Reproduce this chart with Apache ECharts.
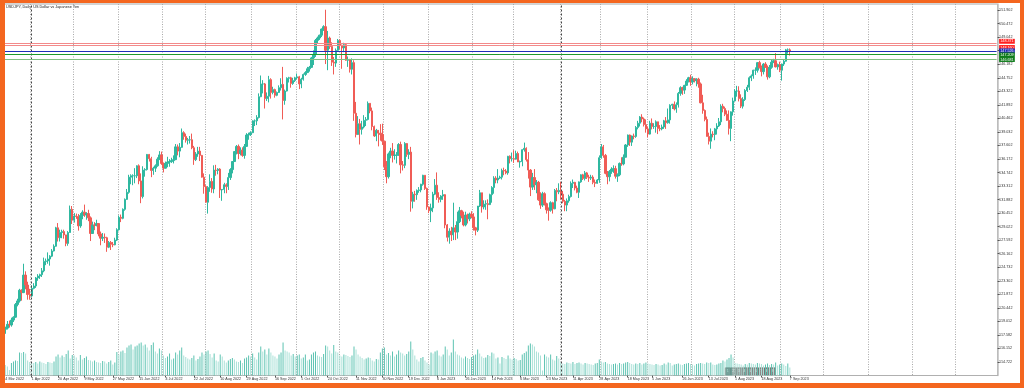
<!DOCTYPE html>
<html><head><meta charset="utf-8">
<script src="https://cdn.jsdelivr.net/npm/echarts@6/dist/echarts.min.js"></script>
<style>
html,body{margin:0;padding:0;background:#fff;}
#wrap{position:relative;width:1024px;height:388px;overflow:hidden;}
#chart{position:absolute;left:0;top:0;width:1024px;height:388px;}
#frame{position:absolute;left:0;top:0;width:1024px;height:388px;box-sizing:border-box;border-style:solid;border-color:#f4661f;border-width:3px 4px 5px 5px;pointer-events:none;}
</style></head>
<body><div id="wrap"><div id="chart"></div><div id="frame"></div></div>
<script>
const chartTitle = 'USDJPY, Daily: US Dollar vs Japanese Yen';
// [open, close, low, high]  Mar–Jun 2022
const ohlc2022a = [
[117.30,118.17,117.10,118.45],[118.17,118.30,117.70,118.45],[118.30,118.70,118.15,119.05],[118.70,118.63,118.35,119.10],[118.63,119.15,118.45,119.40],
[119.15,119.45,118.95,119.55],[119.45,120.80,119.40,120.95],[120.80,121.17,120.60,121.40],[121.17,122.30,121.00,122.45],[122.30,122.05,121.20,122.40],
[122.05,123.90,122.00,125.10],[123.90,122.85,122.40,124.30],[122.85,121.85,121.30,123.20],[121.85,121.70,121.30,122.45],
[121.70,122.50,121.60,122.80],[122.50,122.75,122.40,123.05],[122.75,123.60,122.55,123.70],[123.60,123.80,123.30,124.00],[123.80,123.95,123.50,124.05],
[123.95,124.35,123.70,124.65],[124.35,125.35,124.20,125.75],[125.35,125.40,124.95,125.65],[125.40,125.60,125.10,126.30],[125.60,125.90,124.90,126.00],
[125.90,126.45,125.80,126.65],[126.45,126.95,126.40,127.15],[126.95,128.90,126.90,129.00],[128.90,127.85,127.45,129.40],[127.85,128.40,127.45,128.70],
[128.40,128.50,127.80,128.70],[128.50,128.15,127.75,128.70],[128.15,127.25,126.95,128.10],[127.25,128.40,127.00,128.55],[128.40,130.85,128.40,131.25],
[130.85,129.70,129.30,131.20],
[129.70,130.15,129.45,130.45],[130.15,130.10,129.85,130.40],[130.10,129.10,128.60,130.35],[129.10,130.20,128.90,130.45],[130.20,130.55,129.80,130.75],
[130.55,130.25,130.05,131.35],[130.25,130.40,129.75,130.55],[130.40,129.95,129.60,130.80],[129.95,128.30,127.50,130.10],[128.30,129.20,128.25,129.55],
[129.20,129.15,128.65,129.50],[129.15,129.35,129.05,129.75],[129.35,128.25,128.00,129.35],[128.25,127.80,127.05,128.50],[127.80,127.90,127.50,128.35],
[127.90,127.85,127.30,128.30],[127.85,126.85,126.36,127.95],[126.85,127.35,126.75,127.50],[127.35,127.15,126.55,127.50],[127.15,127.10,126.85,127.40],
[127.10,127.60,127.05,127.85],[127.60,128.70,127.50,128.85],
[128.70,130.00,128.60,130.20],[130.00,129.90,129.50,130.30],[129.90,130.85,129.80,130.95],[130.85,131.90,130.70,132.00],[131.90,132.65,131.85,133.00],
[132.65,134.25,132.50,134.50],[134.25,134.40,133.50,134.55],[134.40,134.40,133.40,134.55],[134.40,134.40,133.60,135.20],[134.40,135.45,134.15,135.50],
[135.45,133.85,133.50,135.60],[133.85,132.20,131.50,134.65],[132.20,135.00,132.00,135.40],[135.00,135.05,134.30,135.20],[135.05,136.65,134.95,136.70],
[136.65,136.20,135.90,136.70],[136.20,134.95,134.25,136.40],[134.95,135.20,134.50,135.35],[135.20,135.45,134.80,135.60],[135.45,136.15,135.35,136.35],
[136.15,136.60,136.05,137.00],[136.60,135.70,135.55,136.95]
];
// Jul–Dec 2022
const ohlc2022b = [
[135.70,135.20,134.75,135.80],[135.20,135.70,135.15,135.90],[135.70,135.85,135.30,136.40],[135.85,135.90,135.35,136.15],[135.90,136.00,135.75,136.30],
[136.00,136.10,135.70,136.55],[136.10,137.45,136.05,137.75],[137.45,137.00,136.55,137.70],[137.00,137.40,136.35,137.85],[137.40,138.95,137.35,139.39],
[138.95,138.55,138.20,139.10],[138.55,138.15,137.90,138.85],[138.15,138.20,137.70,138.40],[138.20,138.20,137.80,138.60],[138.20,137.35,137.20,138.85],
[137.35,136.10,135.55,137.55],[136.10,136.70,135.95,136.90],[136.70,137.00,136.40,137.45],[137.00,136.55,135.95,137.45],[136.55,134.25,134.20,136.60],
[134.25,133.25,132.50,134.65],
[133.25,131.60,131.55,133.40],[131.60,133.15,130.40,133.30],[133.15,133.80,132.70,134.55],[133.80,133.00,132.60,134.15],[133.00,135.00,132.55,135.50],
[135.00,134.95,134.40,135.55],[134.95,135.10,134.55,135.20],[135.10,132.90,132.05,135.20],[132.90,132.95,131.75,133.00],[132.95,133.45,132.55,133.65],
[133.45,133.25,132.55,133.60],[133.25,134.20,132.90,134.70],[134.20,135.05,133.95,135.20],[135.05,135.90,134.65,135.95],[135.90,136.95,135.85,137.00],
[136.95,137.50,136.65,137.65],[137.50,136.75,136.15,137.70],[136.75,137.10,136.55,137.40],[137.10,136.55,136.40,137.40],[136.55,137.50,136.20,137.75],
[137.50,138.70,137.45,138.90],[138.70,138.75,138.20,138.95],[138.75,138.95,138.60,139.10],
[138.95,140.20,138.90,140.25],[140.20,140.20,139.65,140.35],[140.20,140.55,139.75,140.80],[140.55,142.75,140.45,143.10],[142.75,144.10,142.70,144.99],
[144.10,144.10,143.10,144.50],[144.10,142.55,141.50,144.20],[142.55,142.80,142.30,143.20],[142.80,144.55,142.15,144.95],[144.55,143.20,142.55,144.70],
[143.20,143.50,143.00,143.80],[143.50,142.90,142.65,143.60],[142.90,143.20,142.80,143.30],[143.20,143.70,143.15,143.95],[143.70,144.05,143.40,144.70],
[144.05,142.35,140.35,145.90],[142.35,143.35,141.90,143.50],[143.35,144.70,143.30,144.80],[144.70,144.75,144.25,144.85],[144.75,144.15,143.70,144.85],
[144.15,144.45,144.00,144.75],[144.45,144.75,144.30,144.85],
[144.75,144.85,144.60,145.20],[144.85,144.10,143.55,144.95],[144.10,144.60,143.65,144.75],[144.60,145.10,144.45,145.20],[145.10,145.30,144.95,145.45],
[145.30,145.70,145.25,145.90],[145.70,145.85,145.40,146.00],[145.85,146.85,145.80,146.95],[146.85,147.20,146.10,147.65],[147.20,148.70,146.95,148.85],
[148.70,148.95,148.40,149.10],[148.95,149.25,148.75,149.30],[149.25,149.90,149.05,149.95],[149.90,150.15,149.70,150.30],[150.15,147.65,146.20,151.94],
[147.65,148.95,145.55,149.70],[148.95,148.05,147.80,149.10],[148.05,146.40,146.00,148.50],[146.40,146.30,145.10,146.95],[146.30,147.65,145.90,147.85],
[147.65,148.70,147.60,148.85],
[148.70,148.20,147.80,148.80],[148.20,147.90,145.70,148.25],[147.90,148.25,147.45,148.45],[148.25,146.60,146.55,148.40],[146.60,146.65,145.90,147.00],
[146.65,145.65,145.30,146.75],[145.65,146.35,145.10,146.80],[146.35,141.00,140.20,146.60],[141.00,138.75,138.45,142.20],[138.75,139.90,138.80,140.70],
[139.90,139.30,137.70,140.40],[139.30,139.55,138.75,140.20],[139.55,140.25,139.40,140.80],[140.25,140.35,139.65,140.60],[140.35,142.05,140.25,142.25],
[142.05,141.25,141.00,142.05],[141.25,139.60,139.20,141.60],[139.60,138.60,138.50,139.70],[138.60,139.20,138.05,139.35],[139.20,138.90,137.50,139.10],
[138.90,138.75,138.10,139.85],[138.75,138.05,137.65,139.90],
[138.05,135.35,135.00,138.10],[135.35,134.30,133.60,135.95],[134.30,136.70,134.10,136.85],[136.70,137.00,136.25,137.35],[137.00,136.55,135.80,137.85],
[136.55,136.55,136.10,137.20],[136.55,136.60,135.70,136.90],[136.60,137.70,136.50,137.85],[137.70,135.55,134.65,138.00],[135.55,135.50,134.95,135.95],
[135.50,137.80,135.20,137.95],[137.80,136.65,136.40,137.70],[136.65,136.90,136.15,137.20],[136.90,131.70,130.60,137.45],[131.70,132.45,130.95,132.70],
[132.45,132.40,131.65,132.80],[132.40,132.85,131.85,132.95],[132.85,132.90,132.60,133.20],[132.90,133.50,132.65,133.55],[133.50,134.45,133.35,134.50],
[134.45,133.05,132.90,134.45],[133.05,131.10,130.80,133.15]
];
// Jan–Jun 2023
const ohlc2023a = [
[131.10,130.70,130.45,131.15],[130.70,131.00,129.50,131.45],[131.00,132.45,130.55,132.70],[132.45,133.40,132.35,134.05],[133.40,132.10,131.85,134.75],
[132.10,131.90,131.55,132.65],[131.90,132.25,131.60,132.35],[132.25,132.40,131.85,132.90],[132.40,129.20,128.85,132.45],[129.20,127.90,127.45,129.30],
[127.90,128.55,127.22,128.85],[128.55,128.15,127.50,129.00],[128.15,128.90,127.60,131.55],[128.90,128.45,127.60,129.20],[128.45,129.55,127.75,130.60],
[129.55,130.70,129.40,131.10],[130.70,130.20,129.90,130.80],[130.20,129.20,129.05,130.60],[129.20,130.25,129.05,130.60],[130.25,129.85,129.35,130.40],
[129.85,130.35,129.60,130.50],[130.35,130.05,129.90,130.65],
[130.05,128.90,128.60,130.45],[128.90,128.65,128.10,129.00],[128.65,131.20,128.45,131.20],[131.20,132.60,131.10,132.90],[132.60,131.10,130.50,132.60],
[131.10,131.40,130.85,131.80],[131.40,131.45,130.80,131.80],[131.45,131.35,129.80,131.90],[131.35,132.40,131.30,132.50],[132.40,133.15,131.55,133.30],
[133.15,134.15,132.50,134.35],[134.15,133.95,133.60,134.35],[133.95,134.15,133.60,135.10],[134.15,134.25,134.05,134.40],[134.25,134.95,134.00,135.15],
[134.95,134.90,134.45,135.25],[134.90,134.70,134.55,135.10],[134.70,136.45,134.50,136.50],[136.45,136.20,135.70,136.55],[136.20,136.20,135.90,136.85],
[136.20,136.15,135.75,137.10],[136.15,136.75,136.10,137.05],[136.75,135.85,135.85,136.95],[135.85,135.90,135.25,136.00],[135.90,137.15,135.40,137.20],
[137.15,137.30,136.95,137.90],[137.30,136.10,135.90,137.40],[136.10,135.00,134.10,136.90],[135.00,133.20,132.25,135.10],[133.20,134.20,132.90,134.70],
[134.20,133.45,132.90,135.10],[133.45,133.70,132.55,133.95],[133.70,131.85,131.75,133.85],[131.85,131.30,130.90,132.65],[131.30,132.50,131.10,132.70],
[132.50,131.45,131.25,132.65],[131.45,130.80,130.40,131.55],[130.80,130.75,129.65,131.05],[130.75,131.55,130.60,131.70],[131.55,130.90,130.40,131.65],
[130.90,132.85,130.85,133.00],[132.85,132.70,131.70,133.10],[132.70,132.85,132.45,133.60],
[132.85,132.45,131.90,133.75],[132.45,131.70,131.50,132.80],[131.70,131.30,130.65,131.85],[131.30,131.75,130.65,132.00],[131.75,132.20,131.55,132.40],
[132.20,133.60,132.10,133.80],[133.60,133.70,133.10,134.00],[133.70,133.10,132.85,133.75],[133.10,132.65,132.55,133.35],[132.65,133.75,132.05,133.80],
[133.75,134.50,133.65,134.55],[134.50,134.10,133.95,134.60],[134.10,134.70,133.90,134.90],[134.70,134.25,134.05,134.80],[134.25,134.15,133.75,134.50],
[134.15,134.25,133.95,134.50],[134.25,133.70,133.50,134.45],[133.70,133.60,133.20,134.00],[133.60,133.95,133.55,134.05],[133.95,136.30,133.65,136.55],
[136.30,137.45,136.20,137.75],[137.45,136.55,136.30,137.65],[136.55,134.65,134.55,136.70],[134.65,134.30,133.50,134.90],[134.30,134.85,133.80,135.00],
[134.85,135.10,134.60,135.30],[135.10,135.15,134.70,135.50],[135.15,134.35,134.10,135.45],[134.35,134.50,133.75,134.65],[134.50,135.70,134.35,135.80],
[135.70,135.65,135.45,136.35],[135.65,136.35,135.50,136.65],[136.35,137.65,136.35,137.75],[137.65,138.70,137.45,138.75],[138.70,137.95,137.55,138.75],
[137.95,138.60,137.55,138.65],[138.60,138.55,138.25,138.85],[138.55,139.50,138.40,139.65],[139.50,139.95,139.30,140.20],[139.95,140.60,139.60,140.70],
[140.60,140.40,140.05,140.90],[140.40,139.80,139.60,140.55],[139.80,139.35,138.95,140.35],
[139.35,138.80,138.45,139.60],[138.80,139.95,138.75,140.20],[139.95,139.60,139.30,140.45],[139.60,139.60,139.35,139.95],[139.60,140.10,138.95,140.25],
[140.10,139.40,138.80,140.10],[139.40,139.35,139.10,139.75],[139.35,139.55,139.20,139.80],[139.55,140.20,139.35,140.30],[140.20,140.00,139.35,140.60],
[140.00,140.30,139.90,141.50],[140.30,141.85,139.90,141.95],[141.85,141.95,141.45,142.00],[141.95,141.45,141.30,142.25],[141.45,141.90,141.05,142.15],
[141.90,143.10,141.60,143.25],[143.10,143.70,142.85,143.85],[143.70,143.45,142.95,143.80],[143.45,143.95,143.05,144.00],[143.95,144.40,143.90,144.60],
[144.40,144.75,144.25,144.85],[144.75,144.30,143.90,145.07]
];
// Jul–Sep 2023
const ohlc2023b = [
[144.30,144.65,144.05,144.90],[144.65,144.45,144.25,144.70],[144.45,144.60,143.85,144.70],[144.60,144.10,143.70,144.75],[144.10,142.10,142.05,144.25],
[142.10,141.30,140.95,142.95],[141.30,140.35,140.15,141.40],[140.35,138.55,138.55,140.65],[138.55,138.05,137.70,138.95],[138.05,138.80,137.25,139.40],
[138.80,138.75,138.45,139.10],[138.75,139.35,138.15,139.45],[139.35,139.65,138.75,139.95],[139.65,140.10,139.55,140.50],[140.10,141.75,139.75,141.95],
[141.75,141.50,141.10,142.00],[141.50,140.90,140.70,141.70],[140.90,140.25,140.20,141.30],[140.25,139.40,138.75,141.30],[139.40,141.15,138.05,141.20],
[141.15,142.30,140.75,142.65],
[142.30,143.35,142.25,143.55],[143.35,143.35,142.75,143.90],[143.35,142.55,142.25,143.85],[142.55,141.75,141.55,143.00],[141.75,142.45,141.50,142.70],
[142.45,143.40,142.30,143.55],[143.40,143.75,143.25,144.00],[143.75,144.75,143.45,144.90],[144.75,144.95,144.40,145.10],[144.95,145.55,144.65,145.60],
[145.55,145.55,145.05,145.85],[145.55,146.35,145.30,146.40],[146.35,145.80,145.75,146.55],[145.80,145.40,144.90,146.05],[145.40,146.20,145.10,146.30],
[146.20,145.85,145.80,146.40],[145.85,144.85,144.55,146.05],[144.85,145.85,144.70,146.10],[145.85,146.40,145.70,146.65],[146.40,146.55,146.30,146.75],
[146.55,145.90,145.85,147.35],[145.90,146.15,145.60,146.25],[146.15,145.55,145.35,146.45],
[145.55,146.20,144.45,146.25],[146.20,146.50,146.00,146.65],[146.50,147.70,146.45,147.80],[147.70,147.70,147.30,147.85],[147.70,147.55,147.10,147.85]
];
const volumes2022 = [
120,105,90,55,125,140,150,145,230,225,235,220,150,135,
130,125,135,120,140,130,125,115,135,130,125,140,190,210,180,200,185,215,250,170,205,
200,180,150,205,160,175,190,155,150,140,150,135,130,125,145,140,120,135,150,110,130,235,
210,240,250,225,280,300,310,260,290,300,320,330,300,310,280,250,305,330,240,220,270,250,
200,175,190,220,160,170,230,210,250,280,200,185,170,160,175,200,150,165,190,230,210,
240,250,215,180,220,150,140,210,190,150,130,150,165,175,160,140,135,150,125,170,180,200,190,
220,180,160,230,290,240,260,210,270,230,200,190,170,210,230,330,250,240,230,200,215,190,
200,210,170,180,210,150,160,210,230,240,200,190,185,215,300,290,250,220,305,240,230,
200,190,210,205,195,185,200,290,260,210,190,175,160,170,180,175,150,140,165,160,230,270,
280,210,225,200,240,190,210,250,230,220,200,215,240,340,260,200,160,140,175,185,150,130
];
const volumes2023 = [
110,230,220,240,250,200,190,210,290,260,200,230,360,240,210,200,180,170,190,175,165,185,
200,210,260,220,190,175,180,205,195,230,220,170,180,120,185,175,165,200,170,160,
175,165,150,155,210,225,240,300,320,310,290,240,230,200,50,210,190,180,210,160,150,195,170,
130,120,115,130,125,120,135,115,125,130,120,110,125,120,115,110,105,120,125,160,
140,130,135,120,115,110,115,120,110,125,115,120,130,135,125,115,110,120,115,125,110,120,130,
120,115,110,105,115,110,100,105,120,110,130,125,100,110,115,120,110,105,115,120,125,115,
110,100,115,120,125,120,115,130,125,130,110,105,110,120,125,150,140,160,175,210,180,
125,120,115,110,100,115,110,125,120,115,110,125,120,115,100,110,120,105,115,110,130,100,110,
120,110,95,120,80
];
const timeLabels = ['14 Mar 2022','1 Apr 2022','20 Apr 2022','9 May 2022','27 May 2022','15 Jun 2022','4 Jul 2022','22 Jul 2022','10 Aug 2022','29 Aug 2022','16 Sep 2022','5 Oct 2022','24 Oct 2022','11 Nov 2022','30 Nov 2022','19 Dec 2022','6 Jan 2023','26 Jan 2023','14 Feb 2023','6 Mar 2023','23 Mar 2023','11 Apr 2023','28 Apr 2023','18 May 2023','5 Jun 2023','26 Jun 2023','13 Jul 2023','1 Aug 2023','18 Aug 2023','7 Sep 2023'];
const priceTicks = ['114.722','116.152','117.582','119.012','120.442','121.872','123.302','124.732','126.162','127.592','129.022','130.452','131.882','133.312','134.742','136.172','137.602','139.032','140.462','141.892','143.322','144.752','146.182','147.612','149.042','150.472','151.902'];
const priceLevels = [148.371, 148.160, 147.526, 147.209, 146.681];
const levelNames = ['ask2', 'ask', 'bid', 'buy', 'sell'];
const markedDays = ['1 Apr 2022', '3 Apr 2023'];
const eventMarks = ['1','2','3','4','5','6','7','8','9'];

// ---------- build ----------
const ohlc = ohlc2022a.concat(ohlc2022b, ohlc2023a, ohlc2023b);
const volumes = volumes2022.concat(volumes2023);
const MON = ['Jan','Feb','Mar','Apr','May','Jun','Jul','Aug','Sep','Oct','Nov','Dec'];
const SLOTS = 491;
const categories = [];
const monthStart = new Set();
let d = new Date(Date.UTC(2022, 2, 14)), prevM = -1;
while (categories.length < SLOTS) {
  const wd = d.getUTCDay();
  if (wd >= 1 && wd <= 5) {
    const s = d.getUTCDate() + ' ' + MON[d.getUTCMonth()] + ' ' + d.getUTCFullYear();
    if (prevM !== -1 && d.getUTCMonth() !== prevM) monthStart.add(categories.length);
    prevM = d.getUTCMonth();
    categories.push(s);
  }
  d = new Date(d.getTime() + 86400000);
}
const labelSet = new Set(timeLabels);
const TICK0 = 114.722, STEP = 1.43;

const lineStyles = [
  {line:'#f38a8a', box:'#ff1f1f', sym:'#c40000', off:[0,-2.2]},
  {line:'#f38a8a', box:'#ff1f1f', sym:'#c40000', off:[0,2]},
  {line:'#1f2fb8', box:'#1a22b0', sym:'#1a22b0', off:[0,-0.6]},
  {line:'#1f9a2c', box:'#0c7a18', sym:'#111111', off:[0,0.4]},
  {line:'#7fbf80', box:'#0c7a18', sym:'#111111', off:[0,0]}
];

const FONT = 'Liberation Sans, Arial, sans-serif';
const stripGraphic = {
  type: 'group', left: 725, top: 367.5,
  children: eventMarks.map((t, i) => ({
    type: 'group', x: i * 5.6,
    children: [
      {type: 'rect', shape: {x: 0, y: 0, width: 5.2, height: 7}, style: {fill: '#8d8083', stroke: '#5a5052', lineWidth: 0.6}},
      {type: 'text', x: 1.4, y: 1.6, style: {text: t, fill: '#f4eeee', font: '3.6px ' + FONT}}
    ]
  }))
};

const levelSeries = priceLevels.map((v, i) => ({
  type: 'line', name: levelNames[i], xAxisIndex: 0, yAxisIndex: 0, z: 5, silent: true,
  data: [[categories[0], v], [categories[SLOTS - 1], v]],
  symbol: 'rect', symbolSize: 2.6, showSymbol: true,
  itemStyle: {color: lineStyles[i].sym},
  lineStyle: {color: lineStyles[i].line, width: 1, type: 'solid'},
  endLabel: {show: true, formatter: v.toFixed(3), color: '#fff', fontSize: 3.7, fontFamily: FONT, distance: 2.5,
    offset: lineStyles[i].off,
    backgroundColor: lineStyles[i].box, padding: [0.6, 1.2, 0.3, 1.2]},
  emphasis: {disabled: true}
}));

const chart = echarts.init(document.getElementById('chart'), null, {renderer:'canvas'});
chart.setOption({
  animation: false,
  backgroundColor: '#ffffff',
  textStyle: {fontFamily: FONT},
  grid: {left: 2.31, right: 26.4, top: 4, bottom: 12.5, show: true, borderColor: '#a8a8a8', borderWidth: 1, backgroundColor: 'transparent'},
  graphic: [
    {type:'text', left: 6, top: 5, style:{text: chartTitle, fill:'#222', font: '3.8px ' + FONT}},
    stripGraphic,
    (ohlc.length !== 389 || volumes.length !== 389) ? {type:'text', left: 300, top: 150, style:{text:'LEN ' + ohlc.length + ' ' + volumes.length, fill:'red', font:'20px sans-serif'}} : {type:'group'}
  ],
  xAxis: {
    type: 'category', data: categories, boundaryGap: true,
    axisLine: {show: true, lineStyle: {color: '#b0b0b0', width: 1}},
    axisTick: {show: true, alignWithLabel: true, length: 2, interval: (i, v) => labelSet.has(v), lineStyle:{color:'#555'}},
    axisLabel: {show: true, interval: (i, v) => labelSet.has(v), align: 'left', fontSize: 3.7, margin: 1.5, color: '#333', fontFamily: FONT},
    splitLine: {show: true, interval: (i) => monthStart.has(i), lineStyle: {color: '#a9a9a9', width: 1, type: [1, 1.5]}}
  },
  yAxis: [
    {type: 'value', position: 'right', min: TICK0 - STEP, max: 152.545, interval: STEP,
     axisLine: {show: true, lineStyle: {color: '#c2c2c2', width: 1.5}},
     axisTick: {show: true, length: 2, lineStyle: {color: '#555'}},
     splitLine: {show: false},
     axisLabel: {show: true, fontSize: 3.7, margin: 1.5, color: '#333', fontFamily: FONT, showMinLabel: false, showMaxLabel: false,
       formatter: v => { const k = Math.round((v - TICK0) / STEP); return (k >= 0 && k < priceTicks.length) ? priceTicks[k] : ''; }}},
    {type: 'value', min: 0, max: 3715, show: false}
  ],
  series: [
    {type: 'bar', name: 'Volumes', xAxisIndex: 0, yAxisIndex: 1, data: volumes, barWidth: 1, silent: true, z: 1,
     itemStyle: {color: p => (p.dataIndex > 0 && volumes[p.dataIndex] > volumes[p.dataIndex - 1]) ? '#5cc3b1' : '#a9e1d7'},
     markLine: {silent: true, symbol: ['none', 'none'], label: {show: false},
       lineStyle: {color: '#444', width: 1, type: [2, 2]},
       data: markedDays.map(v => ({xAxis: v}))}},
    {type: 'candlestick', name: 'USDJPY', data: ohlc, barWidth: 1.8, z: 3,
     itemStyle: {color: '#2fb8a0', color0: '#f05c56', borderColor: '#2fb8a0', borderColor0: '#f05c56', borderWidth: 1}}
  ].concat(levelSeries)
});
</script>
</body></html>
